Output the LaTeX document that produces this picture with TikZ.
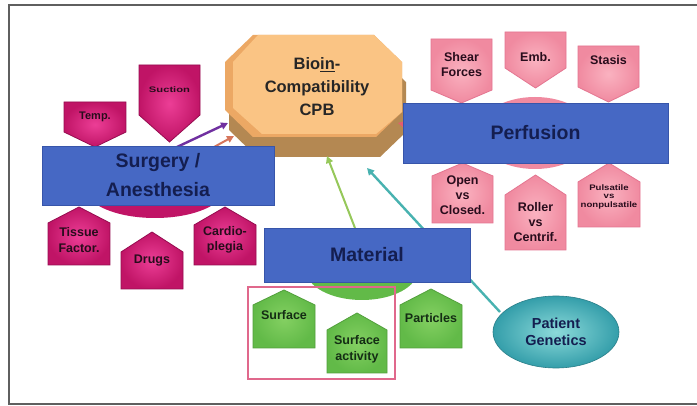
\documentclass[tikz,border=0pt]{standalone}
\usepackage{fontspec}
\setmainfont{Liberation Sans}
\usetikzlibrary{arrows.meta,shapes.geometric}
\definecolor{frameg}{RGB}{95,95,95}
\definecolor{bluebx}{RGB}{70,104,196}
\definecolor{bluebd}{RGB}{55,85,170}
\definecolor{navy}{RGB}{20,30,80}
\definecolor{magout}{RGB}{192,20,102}
\definecolor{magin}{RGB}{236,62,150}
\definecolor{magbd}{RGB}{150,12,80}
\definecolor{pinkout}{RGB}{240,138,160}
\definecolor{pinkin}{RGB}{250,178,192}
\definecolor{pinkbd}{RGB}{228,118,145}
\definecolor{grout}{RGB}{98,186,72}
\definecolor{grin}{RGB}{132,208,98}
\definecolor{grbd}{RGB}{82,160,60}
\definecolor{octface}{RGB}{250,196,132}
\definecolor{octside}{RGB}{236,168,100}
\definecolor{octshadow}{RGB}{180,136,82}
\definecolor{tealout}{RGB}{52,158,170}
\definecolor{tealin}{RGB}{140,218,218}
\definecolor{purp}{RGB}{112,48,160}
\definecolor{salmon}{RGB}{214,118,92}
\definecolor{lgreen}{RGB}{150,200,90}
\definecolor{tealln}{RGB}{72,178,176}
\definecolor{perfar}{RGB}{228,92,112}
\definecolor{roseframe}{RGB}{224,104,140}
\definecolor{darktx}{RGB}{40,12,28}
\definecolor{greentx}{RGB}{20,45,20}
\tikzset{
  magshape/.style={inner color=magin,outer color=magout,draw=magbd,line width=0.8pt},
  magtext/.style={inner sep=0pt,align=center,text=darktx,font=\bfseries\fontsize{12.5}{15.5}\selectfont},
  pinkshape/.style={inner color=pinkin,outer color=pinkout,draw=pinkbd,line width=0.8pt},
  pinktext/.style={inner sep=0pt,align=center,text=darktx,font=\bfseries\fontsize{12.5}{15}\selectfont},
  grshape/.style={inner color=grin,outer color=grout,draw=grbd,line width=0.8pt},
  grtext/.style={inner sep=0pt,align=center,text=greentx,font=\bfseries\fontsize{12.5}{16}\selectfont},
  bluebox/.style={rectangle,fill=bluebx,draw=bluebd,line width=0.8pt,inner sep=0pt,align=center,text=navy,font=\bfseries\fontsize{19.5}{29}\selectfont},
  conn/.style={line width=2.4pt,-{Triangle[length=7pt,width=7pt]}},
}
\newcommand\shapeUp[9]{%
  \path[#7shape] (#2,#5) -- ({(#2+#3)/2},#4) -- (#3,#5) -- (#3,#6) -- (#2,#6) -- cycle;
  \node[#7text] (#1) at ({(#2+#3)/2},#8) {#9};}
\newcommand\shapeDown[9]{%
  \path[#7shape] (#2,#4) -- (#3,#4) -- (#3,#5) -- ({(#2+#3)/2},#6) -- (#2,#5) -- cycle;
  \node[#7text] (#1) at ({(#2+#3)/2},#8) {#9};}
\begin{document}
\begin{tikzpicture}[x=1pt,y=-1pt]
\useasboundingbox (0,0) rectangle (697,406);
\fill[white] (0,0) rectangle (697,406);
% outer frame
\draw[frameg,line width=1.3pt] (699,5) -- (9,5) -- (9,404) -- (699,404);
% hub ellipses
\fill[magout] (155,188) ellipse [x radius=70,y radius=30];
\fill[pinkout] (535,133) ellipse [x radius=58,y radius=36];
\fill[grout] (362,270) ellipse [x radius=56,y radius=30];
% octagon with 3D extrusion
\fill[octshadow] (257,55) -- (378,55) -- (406,82) -- (406,132) -- (380,157) -- (257,157) -- (229,130) -- (229,82) -- cycle;
\fill[octside] (253,35) -- (374,35) -- (402,62) -- (402,112) -- (376,137) -- (253,137) -- (225,110) -- (225,62) -- cycle;
\fill[octface] (258,35) -- (374,35) -- (402,62) -- (402,112) -- (376,134) -- (262,134) -- (233,108) -- (233,62) -- cycle;
\node[inner sep=0pt,align=center,text=black!85,font=\bfseries\fontsize{16.5}{23}\selectfont] (bio) at (317,87) {Bio\underline{in}-\\Compatibility\\CPB};
% named connector ends
\coordinate (surgA) at (177,147);
\coordinate (surgB) at (205,152);
\coordinate (octA) at (228,123);
\coordinate (octB) at (234,136);
\coordinate (octC) at (327,156);
\coordinate (octD) at (367,168);
\coordinate (octE) at (398,123);
\coordinate (matA) at (355,228);
\coordinate (perfA) at (430,130);
\coordinate (patA) at (500,312);
% connectors
\draw[conn,purp] (surgA) -- (octA);
\draw[conn,salmon,line width=2pt] (surgB) -- (octB);
\draw[conn,lgreen,line width=2pt] (matA) -- (octC);
\draw[conn,tealln] (patA) -- (octD);
\draw[conn,perfar,line width=2pt] (perfA) -- (octE);
% surgery group
\shapeDown{temp}{64}{126}{102}{132}{147}{mag}{117}{\fontsize{11}{13}\selectfont Temp.}
\shapeDown{suction}{139}{200}{65}{115}{142}{mag}{90}{\scalebox{1.4}[1]{\fontsize{8}{10}\selectfont Suction}}
\shapeUp{tissue}{48}{110}{207}{223}{265}{mag}{240}{Tissue\\Factor.}
\shapeUp{drugs}{121}{183}{232}{252}{289}{mag}{261}{Drugs}
\shapeUp{cardio}{194}{256}{207}{225}{265}{mag}{240}{Cardio-\\plegia}
% perfusion group
\shapeDown{shear}{431}{492}{39}{90}{103}{pink}{64.5}{Shear\\Forces}
\shapeDown{emb}{505}{566}{32}{68}{88}{pink}{57}{Emb.}
\shapeDown{stasis}{578}{639}{46}{87}{102}{pink}{60}{Stasis}
\shapeUp{open}{432}{493}{163}{176}{223}{pink}{195}{Open\\vs\\Closed.}
\shapeUp{roller}{505}{566}{175}{195}{250}{pink}{222}{Roller\\vs\\Centrif.}
\shapeUp{pulse}{578}{640}{163}{182}{227}{pink}{197}{\scalebox{1.2}[1]{\fontsize{8}{9}\selectfont\shortstack{Pulsatile\\vs\\nonpulsatile}}}
% material group
\shapeUp{surface}{253}{315}{290}{305}{348}{gr}{315}{Surface}
\shapeUp{surfact}{327}{387}{313}{330}{373}{gr}{349}{Surface\\activity}
\shapeUp{particles}{400}{462}{289}{305}{348}{gr}{318}{Particles}
% main boxes
\node[bluebox,minimum width=232pt,minimum height=59pt] (surg) at (158,175.5) {Surgery /\\Anesthesia};
\node[bluebox,minimum width=265pt,minimum height=60pt] (perf) at (535.5,133) {Perfusion};
\node[bluebox,minimum width=206pt,minimum height=54pt] (mat) at (367,255) {Material};
% patient genetics
\node[ellipse,minimum width=126pt,minimum height=72pt,inner color=tealin,outer color=tealout,draw=tealout!80!black,line width=0.6pt,align=center,text=navy,font=\bfseries\fontsize{14.5}{16.5}\selectfont] (pat) at (556,332) {Patient\\Genetics};
% rose frame
\draw[roseframe,line width=1.5pt] (248,287) rectangle (395,379);
\end{tikzpicture}
\end{document}
